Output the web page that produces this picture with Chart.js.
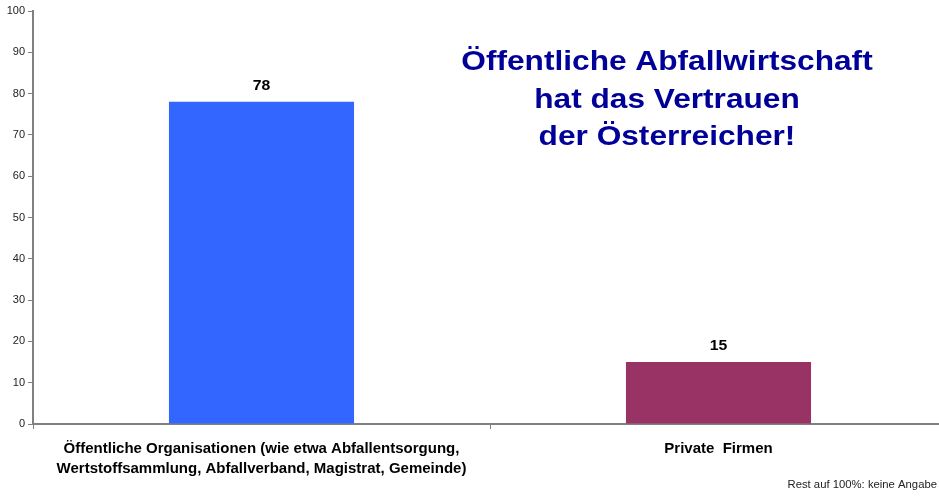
<!DOCTYPE html>
<html>
<head>
<meta charset="utf-8">
<script src="https://cdn.jsdelivr.net/npm/chart.js@4"></script>
<style>
  html, body { margin: 0; padding: 0; background: #fff; overflow: hidden; }
  #clip { width: 939px; height: 496px; overflow: hidden; }
  #wrap { width: 947px; height: 496px; position: relative; }
</style>
</head>
<body>
<div id="clip"><div id="wrap"><canvas id="myChart"></canvas></div></div>
<script>
// Chart data
var categories = [
  ["Öffentliche Organisationen (wie etwa Abfallentsorgung,", "Wertstoffsammlung, Abfallverband, Magistrat, Gemeinde)"],
  "Private  Firmen"
];
var values = [78, 15];
var barColors = ["#3366FF", "#993366"];
var yTicks = [0, 10, 20, 30, 40, 50, 60, 70, 80, 90, 100];
var titleLines = ["Öffentliche Abfallwirtschaft", "hat das Vertrauen", "der Österreicher!"];
var footnote = "Rest auf 100%: keine Angabe";

// text in the original is a bit wider than Liberation Sans
var STRETCH = 1.13;

function wideText(ctx, text, x, y) {
  ctx.save();
  ctx.translate(x, y);
  ctx.scale(STRETCH, 1);
  ctx.fillText(text, 0, 0);
  ctx.restore();
}

// draws the value above each bar, plus the big title and the footnote
var extras = {
  id: 'extras',
  afterDatasetsDraw: function(chart) {
    var ctx = chart.ctx;
    ctx.save();
    ctx.fillStyle = '#000';
    ctx.font = 'bold 14px "Liberation Sans", Arial, sans-serif';
    ctx.textAlign = 'center';
    ctx.textBaseline = 'middle';
    chart.getDatasetMeta(0).data.forEach(function(bar, i) {
      wideText(ctx, String(values[i]), bar.x, bar.y - 16);
    });

    ctx.fillStyle = '#000099';
    ctx.font = 'bold 28px "Liberation Sans", Arial, sans-serif';
    ctx.textBaseline = 'alphabetic';
    for (var i = 0; i < titleLines.length; i++) {
      wideText(ctx, titleLines[i], 667, 70 + i * 37.5);
    }

    ctx.fillStyle = '#222';
    ctx.font = '10px "Liberation Sans", Arial, sans-serif';
    ctx.textAlign = 'right';
    ctx.textBaseline = 'middle';
    wideText(ctx, footnote, 937, 485);
    ctx.restore();
  }
};

var ctx = document.getElementById('myChart').getContext('2d');
var myChart = new Chart(ctx, {
  type: 'bar',
  data: {
    labels: categories,
    datasets: [{
      data: values,
      backgroundColor: barColors,
      borderWidth: 0,
      barPercentage: 1,
      categoryPercentage: 0.405
    }]
  },
  options: {
    responsive: true,
    maintainAspectRatio: false,
    animation: false,
    layout: { padding: { top: 11, left: 0, right: 0, bottom: 0 } },
    plugins: {
      legend: { display: false },
      tooltip: { enabled: false }
    },
    scales: {
      x: {
        grid: { display: true, drawOnChartArea: false, tickLength: 5, color: '#808080', offset: true },
        border: { color: '#808080', width: 2 },
        ticks: {
          color: '#000',
          font: { family: '"Liberation Sans", Arial, sans-serif', size: 15, weight: 'bold', lineHeight: 1.33 },
          padding: 10,
          maxRotation: 0,
          autoSkip: false
        },
        afterFit: function(scale) {
          scale.height = 72;
          scale.paddingLeft = 0;
          scale.paddingRight = 0;
        }
      },
      y: {
        min: 0,
        max: 100,
        afterBuildTicks: function(scale) {
          scale.ticks = yTicks.map(function(v) { return { value: v }; });
        },
        grid: { display: true, drawOnChartArea: false, tickLength: 5, color: '#808080' },
        border: { color: '#808080', width: 2 },
        ticks: {
          color: '#222',
          font: { family: '"Liberation Sans", Arial, sans-serif', size: 11 },
          padding: 3
        },
        afterFit: function(scale) {
          scale.width = 33;
          scale.paddingTop = 0;
          scale.paddingBottom = 0;
        }
      }
    }
  },
  plugins: [extras]
});
</script>
</body>
</html>
